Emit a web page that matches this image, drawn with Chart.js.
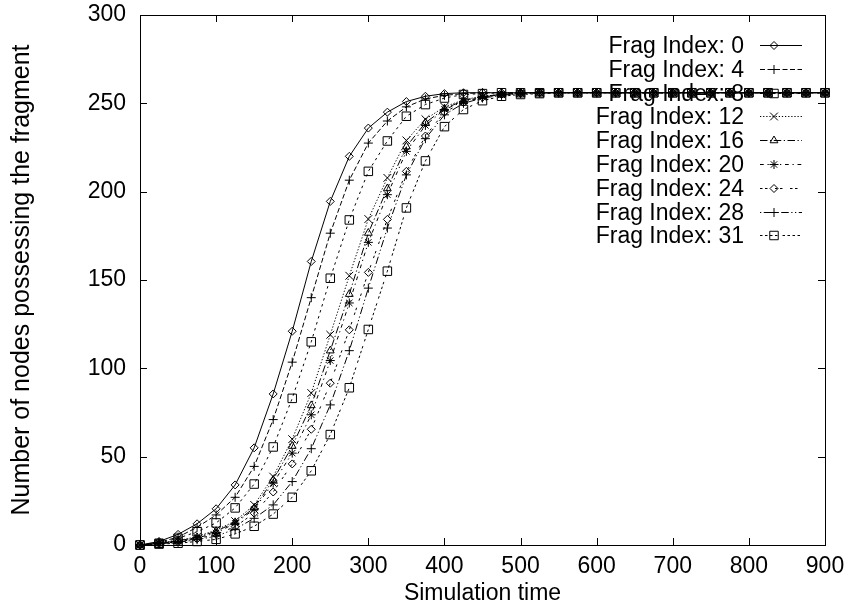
<!DOCTYPE html>
<html>
<head>
<meta charset="utf-8">
<script src="https://cdn.jsdelivr.net/npm/chart.js@4.4.0/dist/chart.umd.min.js"></script>
<style>
  html, body { margin: 0; padding: 0; background: #ffffff; }
  #wrap { width: 848px; height: 608px; }
</style>
</head>
<body>
<div id="wrap"><canvas id="chart" width="848" height="608"></canvas></div>
<script>
// Simulation time samples
const times = [0, 25, 50, 75, 100, 125, 150, 175, 200, 225, 250, 275, 300, 325, 350, 375, 400, 425, 450,
  475, 500, 525, 550, 575, 600, 625, 650, 675, 700, 725, 750, 775, 800, 825, 850, 875, 900];

// Number of nodes holding each fragment at every sample time
const frag0 = [0, 2, 6, 12, 20.5, 34, 55, 85.5, 121, 160.5, 194.5, 220, 236, 245, 251, 254, 255.5, 256, 256,
  256, 256, 256, 256, 256, 256, 256, 256, 256, 256, 256, 256, 256, 256, 256, 256, 256, 256];
const frag4 = [0, 1.5, 4.5, 10, 17, 27, 44.5, 71, 103.5, 140, 176.5, 206.5, 227.5, 240, 248, 252.5, 254.5, 255.5, 256,
  256, 256, 256, 256, 256, 256, 256, 256, 256, 256, 256, 256, 256, 256, 256, 256, 256, 256];
const frag8 = [0, 1, 3.8, 7.5, 12.5, 21, 34.5, 55.5, 83, 115, 151, 184, 211.5, 228.7, 242.7, 249.3, 253, 255, 255.5,
  256, 256, 256, 256, 256, 256, 256, 256, 256, 256, 256, 256, 256, 256, 256, 256, 256, 256];
const frag12 = [0, 1, 2.5, 4.7, 8.5, 13.5, 22.7, 38.7, 59.9, 86, 119, 152.4, 184.5, 207.8, 229, 241, 248, 252, 254,
  255, 256, 256, 256, 256, 256, 256, 256, 256, 256, 256, 256, 256, 256, 256, 256, 256, 256];
const frag16 = [0, 1, 2.3, 4.3, 7.8, 12.8, 21, 36.8, 56, 79, 110, 142, 176.6, 201.8, 225.5, 239, 247, 251.5, 254,
  255, 256, 256, 256, 256, 256, 256, 256, 256, 256, 256, 256, 256, 256, 256, 256, 256, 256];
const frag20 = [0, 1, 2, 4, 6.8, 12.3, 20.2, 35, 52, 73.7, 104.4, 137, 171.3, 198.3, 222.8, 237.5, 246.5, 251, 253.5,
  255, 255.5, 256, 256, 256, 256, 256, 256, 256, 256, 256, 256, 256, 256, 256, 256, 256, 256];
const frag24 = [0, 0.8, 1.8, 3.5, 6, 10.4, 18, 30, 45.9, 65.5, 91.6, 121.8, 154.3, 184.3, 211.5, 231.5, 245, 250.5, 253.5,
  255, 255.5, 256, 256, 256, 256, 256, 256, 256, 256, 256, 256, 256, 256, 256, 256, 256, 256];
const frag28 = [0, 0.7, 1.5, 3, 5, 9, 15.1, 22.7, 35.9, 54.5, 79.3, 110, 145.4, 179.4, 209.5, 230, 243.5, 250, 253,
  254.5, 255.5, 256, 256, 256, 256, 256, 256, 256, 256, 256, 256, 256, 256, 256, 256, 256, 256];
const frag31 = [0, 0.5, 1, 2, 3.2, 6.3, 10.6, 17.5, 27, 42, 62.5, 89, 122, 155, 190.8, 217.4, 236.8, 246.5, 251.5,
  254, 255, 255.5, 256, 256, 256, 256, 256, 256, 256, 256, 256, 256, 256, 256, 256, 256, 256];

const seriesLabels = ['Frag Index: 0', 'Frag Index: 4', 'Frag Index: 8', 'Frag Index: 12', 'Frag Index: 16',
  'Frag Index: 20', 'Frag Index: 24', 'Frag Index: 28', 'Frag Index: 31'];
const seriesValues = [frag0, frag4, frag8, frag12, frag16, frag20, frag24, frag28, frag31];

const xTickValues = [0, 100, 200, 300, 400, 500, 600, 700, 800, 900];
const yTickValues = [0, 50, 100, 150, 200, 250, 300];

// gnuplot-like line types: point symbol, symbol radius, dash pattern (in dash units)
const DASH_UNIT = 1.25;
const lineTypes = [
  { pointStyle: 'rectRot',  radius: 4,   dash: [] },
  { pointStyle: 'cross',    radius: 4.5, dash: [4, 2] },
  { pointStyle: 'rect',     radius: 6,   dash: [2, 3] },
  { pointStyle: 'crossRot', radius: 5.5, dash: [1, 1.5] },
  { pointStyle: 'triangle', radius: 4.5, dash: [6, 2, 1, 2] },
  { pointStyle: 'star',     radius: 4.5, dash: [3, 3, 1, 3] },
  { pointStyle: 'rectRot',  radius: 4,   dash: [2, 2, 2, 6] },
  { pointStyle: 'cross',    radius: 4.5, dash: [1, 2, 6, 2, 1, 2] },
  { pointStyle: 'rect',     radius: 6,   dash: [2, 2, 2, 2, 2, 2, 2, 4] }
];

const FONT_FAMILY = "'Liberation Sans', Arial, Helvetica, sans-serif";
const FONT_SIZE = 23;

const datasets = seriesValues.map((vals, i) => {
  const lt = lineTypes[i];
  return {
    label: seriesLabels[i],
    data: times.map((t, k) => ({ x: t, y: vals[k] })),
    borderColor: '#000000',
    borderWidth: 1,
    borderDash: lt.dash.map(d => d * DASH_UNIT),
    pointStyle: lt.pointStyle,
    pointRadius: lt.radius,
    pointHoverRadius: lt.radius,
    pointBorderColor: '#000000',
    pointBackgroundColor: 'rgba(0,0,0,0)',
    pointBorderWidth: 1,
    tension: 0,
    fill: false,
    clip: false
  };
});

// Border box with inward ticks on all four sides
const framePlugin = {
  id: 'frame',
  beforeDatasetsDraw(chart) {
    const { ctx, chartArea: a, scales } = chart;
    const TICK = 7;
    ctx.save();
    ctx.strokeStyle = '#000000';
    ctx.lineWidth = 1;
    ctx.setLineDash([]);
    ctx.beginPath();
    xTickValues.forEach(v => {
      const px = Math.round(scales.x.getPixelForValue(v)) + 0.5;
      ctx.moveTo(px, a.bottom); ctx.lineTo(px, a.bottom - TICK);
      ctx.moveTo(px, a.top);    ctx.lineTo(px, a.top + TICK);
    });
    yTickValues.forEach(v => {
      const py = Math.round(scales.y.getPixelForValue(v)) + 0.5;
      ctx.moveTo(a.left, py);  ctx.lineTo(a.left + TICK, py);
      ctx.moveTo(a.right, py); ctx.lineTo(a.right - TICK, py);
    });
    ctx.stroke();
    ctx.strokeRect(Math.round(a.left) + 0.5, Math.round(a.top) + 0.5,
      Math.round(a.right - a.left), Math.round(a.bottom - a.top));
    ctx.restore();
  }
};

// Key in the upper right: right-aligned label, then a line sample with its symbol
const KEY = { textRight: 744, sampleL: 760, sampleR: 802, symbolX: 774, firstLine: 45, rowStep: 23.8 };
const keyPlugin = {
  id: 'gnuKey',
  beforeDatasetsDraw(chart) {
    const { ctx } = chart;
    ctx.save();
    ctx.font = FONT_SIZE + 'px ' + FONT_FAMILY;
    ctx.fillStyle = '#000000';
    ctx.textAlign = 'right';
    ctx.textBaseline = 'alphabetic';
    chart.data.datasets.forEach((ds, i) => {
      const yLine = KEY.firstLine + i * KEY.rowStep;
      ctx.fillText(ds.label, KEY.textRight, yLine + 8);
    });
    ctx.restore();
  },
  afterDatasetsDraw(chart) {
    const { ctx } = chart;
    chart.data.datasets.forEach((ds, i) => {
      const yLine = Math.round(KEY.firstLine + i * KEY.rowStep) + 0.5;
      ctx.save();
      ctx.strokeStyle = '#000000';
      ctx.lineWidth = 1;
      ctx.setLineDash(ds.borderDash);
      ctx.beginPath();
      ctx.moveTo(KEY.sampleL, yLine);
      ctx.lineTo(KEY.sampleR, yLine);
      ctx.stroke();
      ctx.setLineDash([]);
      ctx.fillStyle = 'rgba(0,0,0,0)';
      Chart.helpers.drawPoint(ctx, {
        pointStyle: ds.pointStyle,
        radius: ds.pointRadius,
        rotation: 0,
        borderWidth: 1
      }, KEY.symbolX, yLine);
      ctx.restore();
    });
  }
};

new Chart(document.getElementById('chart'), {
  type: 'line',
  data: { datasets },
  options: {
    responsive: false,
    animation: false,
    devicePixelRatio: 1,
    layout: { padding: { left: 0, right: 23, top: 15, bottom: 0 } },
    plugins: {
      legend: { display: false },
      tooltip: { enabled: false }
    },
    scales: {
      x: {
        type: 'linear',
        min: 0,
        max: 900,
        afterFit(scale) {
          scale.height = 63;
          scale.paddingLeft = 0;
          scale.paddingRight = 0;
        },
        afterBuildTicks(scale) { scale.ticks = xTickValues.map(v => ({ value: v })); },
        grid: { display: false, drawTicks: false },
        border: { display: false },
        ticks: {
          padding: 8,
          color: '#000000',
          maxRotation: 0,
          autoSkip: false,
          font: { family: FONT_FAMILY, size: FONT_SIZE }
        },
        title: {
          display: true,
          text: 'Simulation time',
          color: '#000000',
          padding: { top: 0, bottom: 1 },
          font: { family: FONT_FAMILY, size: FONT_SIZE }
        }
      },
      y: {
        type: 'linear',
        min: 0,
        max: 300,
        afterFit(scale) {
          scale.width = 140;
          scale.paddingTop = 0;
          scale.paddingBottom = 0;
        },
        afterBuildTicks(scale) { scale.ticks = yTickValues.map(v => ({ value: v })); },
        grid: { display: false, drawTicks: false },
        border: { display: false },
        ticks: {
          padding: 14,
          color: '#000000',
          autoSkip: false,
          font: { family: FONT_FAMILY, size: FONT_SIZE }
        },
        title: {
          display: true,
          text: 'Number of nodes possessing the fragment',
          color: '#000000',
          padding: { top: 7, bottom: 0 },
          font: { family: FONT_FAMILY, size: 25 }
        }
      }
    }
  },
  plugins: [framePlugin, keyPlugin]
});
</script>
</body>
</html>
